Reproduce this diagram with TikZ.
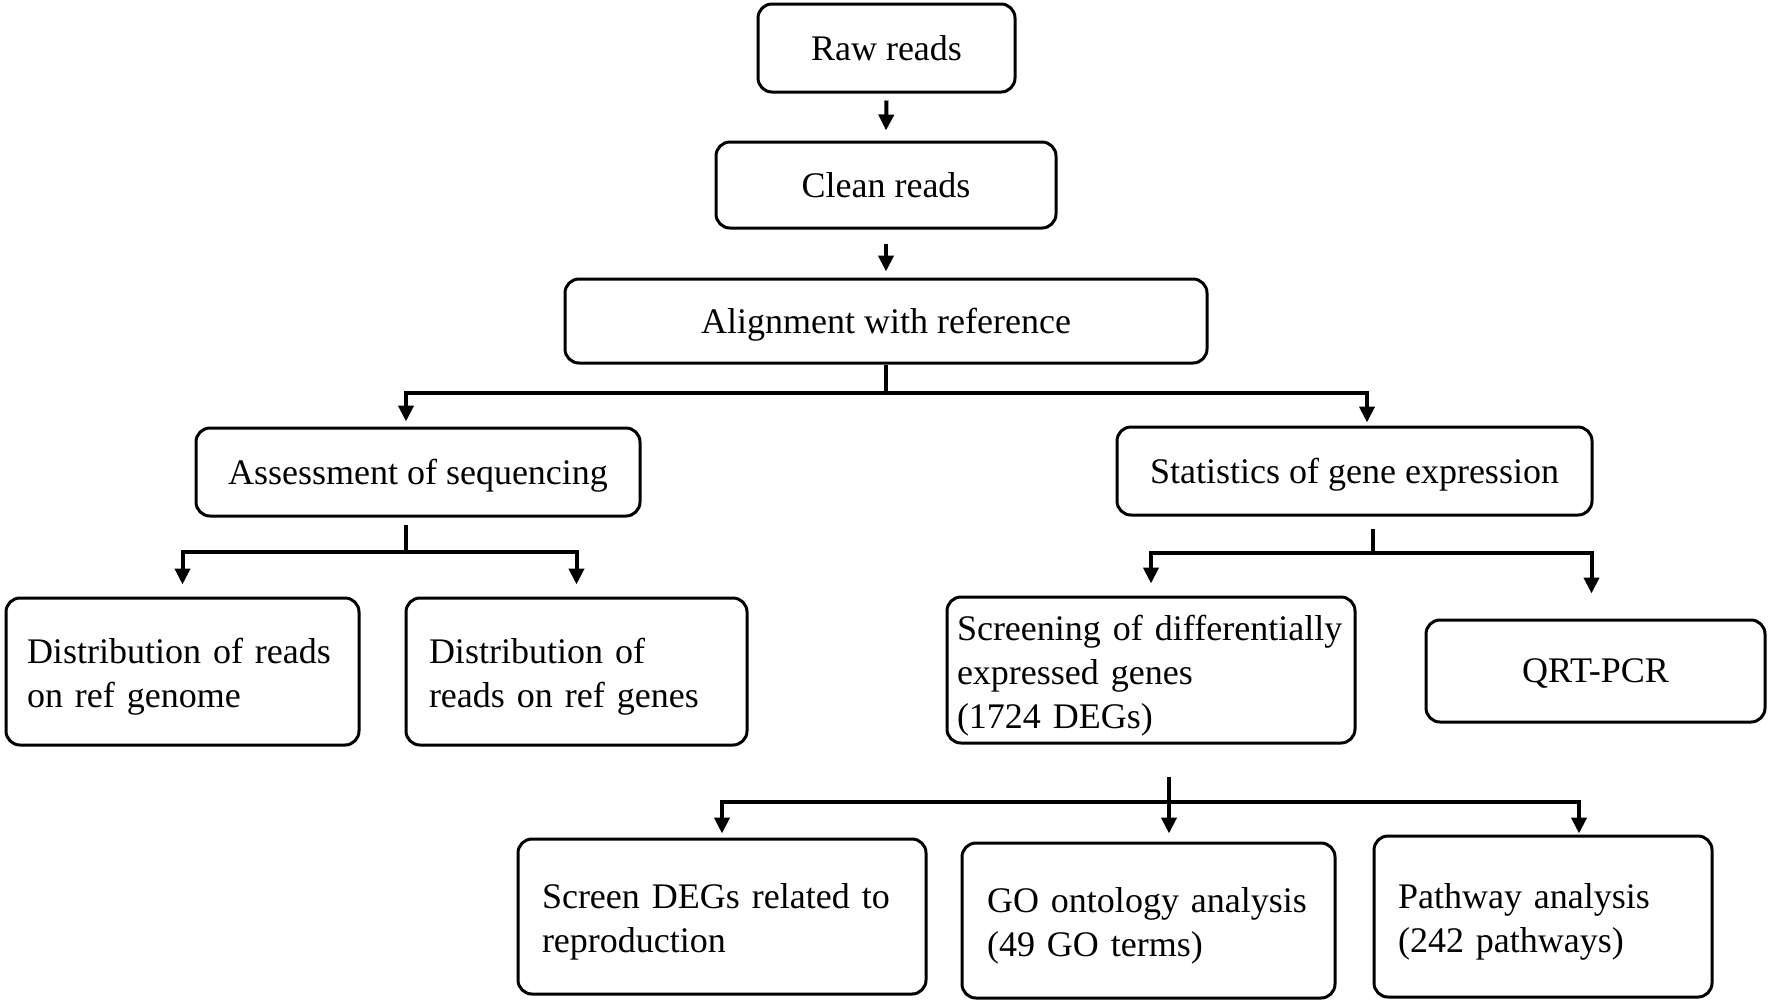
\documentclass[tikz,border=0pt]{standalone}
\usepackage{fontspec}
\setmainfont{Liberation Serif}
\usetikzlibrary{arrows.meta}

\begin{document}
\begin{tikzpicture}[x=0.5pt, y=-0.5pt,
    box/.style={draw, line width=1.5pt, rounded corners=7pt, inner sep=0pt, text depth=0pt,
      font=\fontsize{18}{22}\selectfont, align=center},
    lbox/.style={box, align=left, text depth=#1},
    lbox/.default=20.5pt,
    link/.style={line width=2pt},
    arr/.style={link, -{Triangle[length=8pt,width=7.5pt]}}]
  \useasboundingbox (0,0) rectangle (1772,1003);

  \node[box, minimum width=128.5pt, minimum height=44pt] (raw) at (886.5,48) {Raw reads};
  \node[box, minimum width=170pt, minimum height=43pt] (clean) at (886,185) {Clean reads};
  \node[box, minimum width=321pt, minimum height=42pt] (align) at (886,321) {Alignment with reference};

  \node[box, minimum width=222pt, minimum height=44pt] (assess) at (418,472) {Assessment of sequencing};
  \node[box, minimum width=237.5pt, minimum height=44pt] (stats) at (1354.5,471) {Statistics of gene expression};

  \node[lbox, text width=155.5pt, inner xsep=10.5pt, minimum height=73.5pt] (distgenome) at (182.5,671.5)
    {Distribution of reads\\on ref genome};
  \node[lbox, text width=147.5pt, inner xsep=11.5pt, minimum height=73.5pt] (distgenes) at (576.5,671.5)
    {Distribution of\\reads on ref genes};
  \node[lbox=42.5pt, text width=194pt, inner xsep=5pt, minimum height=73pt] (screening) at (1151,670)
    {Screening of differentially\\expressed genes\\(1724 DEGs)};
  \node[box, minimum width=169.5pt, minimum height=51pt] (qrt) at (1595.5,671) {QRT-PCR};

  \node[lbox, text width=180pt, inner xsep=12pt, minimum height=77.5pt] (screendegs) at (722,916.5)
    {Screen DEGs related to\\reproduction};
  \node[lbox, text width=161.5pt, inner xsep=12.5pt, minimum height=77.5pt] (go) at (1148.5,920.5)
    {GO ontology analysis\\(49 GO terms)};
  \node[lbox, text width=145pt, inner xsep=12pt, minimum height=80.5pt] (pathway) at (1543,916.5)
    {Pathway analysis\\(242 pathways)};

  \coordinate (afork) at (886,393);
  \coordinate (sfork) at (406,552);
  \coordinate (gfork) at (1373,553);
  \coordinate (dfork) at (1169,802);

  \draw[arr] ([yshift=-3.5pt]raw.south) -- ([yshift=5pt]clean.north);
  \draw[arr] ([yshift=-7pt]clean.south) -- ([yshift=3pt]align.north);

  \draw[link] (align.south) -- (afork);
  \draw[arr] (afork) -| ([xshift=-6pt,yshift=2.5pt]assess.north);
  \draw[arr] (afork) -| ([xshift=6.25pt,yshift=1.5pt]stats.north);

  \draw[link] ([xshift=-6pt,yshift=-3.5pt]assess.south) -- (sfork);
  \draw[arr] (sfork) -| ([yshift=6pt]distgenome.north);
  \draw[arr] (sfork) -| ([yshift=6pt]distgenes.north);

  \draw[link] ([xshift=9.25pt,yshift=-6pt]stats.south) -- (gfork);
  \draw[arr] (gfork) -| ([yshift=6pt]screening.north);
  \draw[arr] (gfork) -| ([xshift=-2pt,yshift=12.5pt]qrt.north);

  \draw[link] ([xshift=9pt,yshift=-16pt]screening.south) -- (dfork);
  \draw[arr] (dfork) -- ([xshift=10.25pt,yshift=4pt]go.north);
  \draw[arr] (dfork) -| ([yshift=2pt]screendegs.north);
  \draw[arr] (dfork) -| ([xshift=18pt,yshift=0.5pt]pathway.north);
\end{tikzpicture}
\end{document}
